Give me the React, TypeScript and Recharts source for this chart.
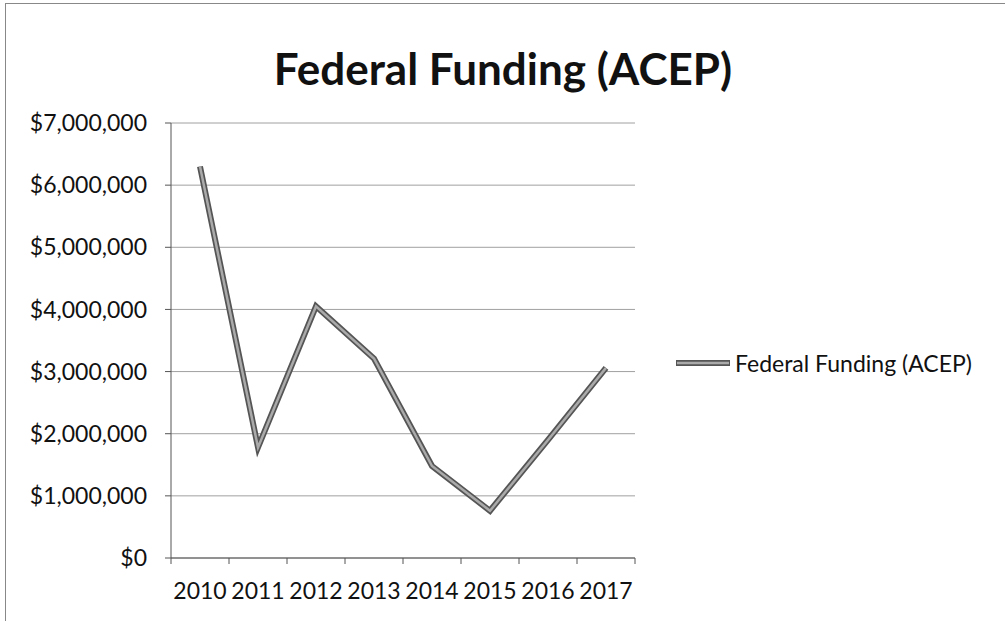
import React from "react";
import { LineChart, Line, XAxis, YAxis, CartesianGrid, Legend } from "recharts";

// values
const years = ["2010", "2011", "2012", "2013", "2014", "2015", "2016", "2017"];
const funding = [6300000, 1780000, 4050000, 3210000, 1480000, 760000, 1900000, 3060000];
const yTicks = [0, 1000000, 2000000, 3000000, 4000000, 5000000, 6000000, 7000000];
const chartTitle = "Federal Funding (ACEP)";
const seriesName = "Federal Funding (ACEP)";

const data = years.map((year, i) => ({ year, funding: funding[i] }));

const FONT = "Lato, 'Noto Sans', sans-serif";
const TICK_SIZE = 6;
const X_TICK_GAP = 19;

const money = (v: number) => "$" + v.toLocaleString("en-US");

// Excel puts the tick marks between categories, so draw them at the band edges
function YearTick(props: any) {
  const { x, y, payload, index, width, visibleTicksCount } = props;
  const band = width / visibleTicksCount;
  const axisY = y - TICK_SIZE - X_TICK_GAP;
  const isLast = index === visibleTicksCount - 1;
  return (
    <g>
      <line x1={x - band / 2} x2={x - band / 2} y1={axisY} y2={axisY + TICK_SIZE} stroke="#555" />
      {isLast && (
        <line x1={x + band / 2} x2={x + band / 2} y1={axisY} y2={axisY + TICK_SIZE} stroke="#555" />
      )}
      <text x={x} y={y} dy="0.71em" textAnchor="middle" fill="#111" fontSize={23} fontFamily={FONT}>
        {payload.value}
      </text>
    </g>
  );
}

function LegendBox() {
  return (
    <div style={{ display: "flex", alignItems: "center", fontFamily: FONT, fontSize: 23, color: "#111", whiteSpace: "nowrap" }}>
      <svg width={56} height={8} style={{ marginRight: 4 }}>
        <line x1={1} x2={55} y1={4} y2={4} stroke="#555" strokeWidth={6} />
        <line x1={2} x2={54} y1={4} y2={4} stroke="#aaa" strokeWidth={2.5} />
      </svg>
      <span>{seriesName}</span>
    </div>
  );
}

export default function App() {
  return (
    <div style={{ position: "absolute", left: 0, top: 0, width: 1005, height: 621, background: "#fff", overflow: "hidden" }}>
      <div
        style={{
          position: "absolute",
          left: 5,
          top: 3,
          width: 1010,
          height: 630,
          borderLeft: "1px solid #888",
          borderTop: "1px solid #888",
        }}
      />
      <div
        style={{
          position: "absolute",
          left: 0,
          top: 46,
          width: 1006,
          textAlign: "center",
          fontFamily: FONT,
          fontWeight: 700,
          fontSize: 44,
          lineHeight: 1,
          color: "#111",
        }}
      >
        {chartTitle}
      </div>
      <div style={{ position: "absolute", left: 0, top: 0 }}>
        <LineChart width={1005} height={621} data={data} margin={{ top: 123, right: 370, bottom: 0, left: 0 }}>
          <CartesianGrid vertical={false} stroke="#a0a0a0" />
          <XAxis
            dataKey="year"
            scale="band"
            height={63}
            interval={0}
            tickLine={false}
            tickSize={TICK_SIZE}
            tickMargin={X_TICK_GAP}
            axisLine={{ stroke: "#555" }}
            tick={<YearTick />}
          />
          <YAxis
            width={171}
            domain={[0, 7000000]}
            ticks={yTicks}
            interval={0}
            tickFormatter={money}
            tickSize={TICK_SIZE}
            tickMargin={18}
            axisLine={{ stroke: "#555" }}
            tickLine={{ stroke: "#555" }}
            tick={{ fill: "#111", fontSize: 23, fontFamily: FONT }}
          />
          <Line
            dataKey="funding"
            name={seriesName}
            stroke="#555"
            strokeWidth={6}
            dot={false}
            activeDot={false}
            isAnimationActive={false}
          />
          <Line
            dataKey="funding"
            legendType="none"
            stroke="#aaa"
            strokeWidth={2.5}
            dot={false}
            activeDot={false}
            isAnimationActive={false}
          />
          <Legend
            layout="horizontal"
            verticalAlign="middle"
            align="center"
            content={<LegendBox />}
            wrapperStyle={{ left: 675, top: 349, width: 330 }}
          />
        </LineChart>
      </div>
    </div>
  );
}
